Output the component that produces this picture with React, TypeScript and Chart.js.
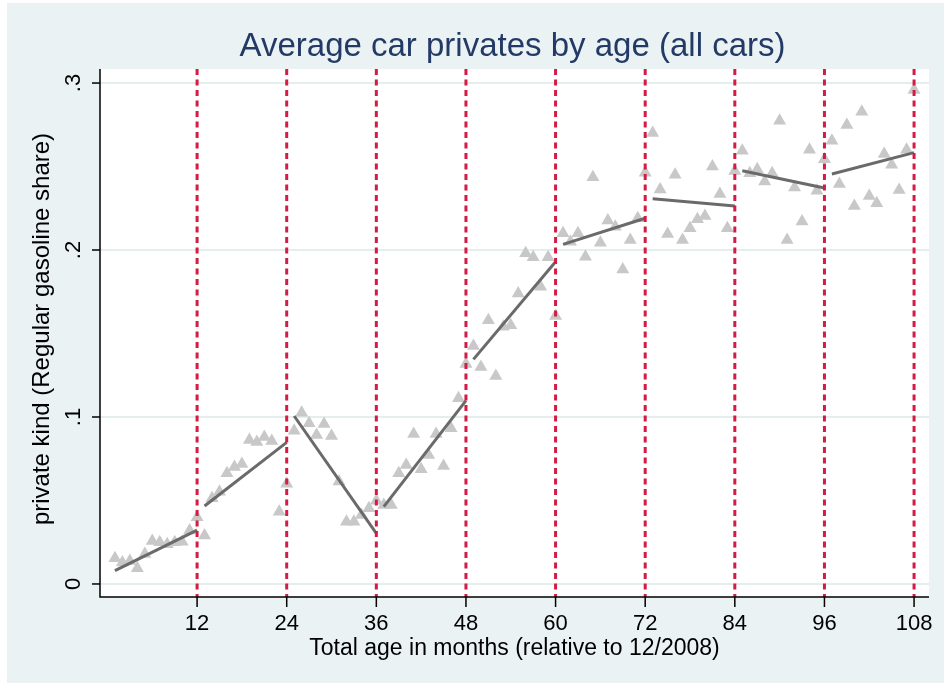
import { useEffect, useRef } from "react";
import { Chart, registerables } from "chart.js";

Chart.register(...registerables);

// Monthly average private share, months 1..108 (one row per 12-month block)
const shares = [
  0.0154, 0.0128, 0.0138, 0.0094, 0.018, 0.0257, 0.025, 0.0238, 0.025, 0.0253, 0.032, 0.04,
  0.029, 0.0513, 0.0553, 0.0663, 0.07, 0.0719, 0.0862, 0.085, 0.088, 0.0856, 0.0433, 0.06,
  0.0918, 0.1026, 0.0962, 0.0892, 0.0958, 0.0886, 0.0613, 0.0373, 0.0373, 0.0413, 0.0453, 0.0499,
  0.0473, 0.0473, 0.0663, 0.0713, 0.0898, 0.0687, 0.0772, 0.0898, 0.0707, 0.0932, 0.1112, 0.1317,
  0.1425, 0.13, 0.158, 0.1245, 0.154, 0.155, 0.174, 0.198, 0.1956, 0.178, 0.1956, 0.1605,
  0.21, 0.205, 0.21, 0.196, 0.2435, 0.2044, 0.2176, 0.214, 0.1884, 0.206, 0.219, 0.2463,
  0.27, 0.2363, 0.2096, 0.245, 0.206, 0.213, 0.2184, 0.2204, 0.25, 0.2335, 0.213, 0.2473,
  0.2595, 0.246, 0.2483, 0.241, 0.246, 0.2774, 0.206, 0.2375, 0.217, 0.26, 0.2355, 0.2543,
  0.2655, 0.2395, 0.2749, 0.2263, 0.2828, 0.2323, 0.228, 0.2575, 0.251, 0.236, 0.26, 0.2958,
];
const months = shares.map((_, i) => i + 1);

// Fitted line for each 12-month block
const segFirstMonth = [1, 13, 25, 37, 49, 61, 73, 85, 97];
const segLastMonth = [12, 24, 36, 48, 60, 72, 84, 96, 108];
const fitAtFirst = [0.008, 0.0467, 0.1006, 0.0463, 0.1345, 0.2034, 0.2307, 0.2475, 0.2455];
const fitAtLast = [0.0323, 0.0848, 0.0303, 0.1098, 0.193, 0.219, 0.2263, 0.2371, 0.2583];

// Dashed reference lines and axis ticks
const refMonths = [12, 24, 36, 48, 60, 72, 84, 96, 108];
const xTicks = [12, 24, 36, 48, 60, 72, 84, 96, 108];
const yTicks = [0, 0.1, 0.2, 0.3];
const yTickLabels = ["0", ".1", ".2", ".3"];

const X_MIN = -1;
const X_MAX = 110;
const Y_MIN = -0.0078;
const Y_MAX = 0.3084;

const TITLE = "Average car privates by age (all cars)";
const X_TITLE = "Total age in months (relative to 12/2008)";
const Y_TITLE = "private kind (Regular gasoline share)";

const FONT = '"Liberation Sans", Arial, Helvetica, sans-serif';
const MINT = "#eaf2f3";
const GRID = "#e4eeee";

const stataFrame = {
  id: "stataFrame",
  beforeDraw(chart: any) {
    const { ctx, chartArea: a, width, height } = chart;
    ctx.save();
    ctx.fillStyle = "#ffffff";
    ctx.fillRect(0, 0, width, height);
    ctx.fillStyle = MINT;
    ctx.fillRect(7, 3, 937, 680);
    ctx.fillStyle = "#ffffff";
    ctx.fillRect(a.left, a.top, a.right - a.left, a.bottom - a.top);
    const ys = chart.scales.y;
    ctx.strokeStyle = GRID;
    ctx.lineWidth = 2;
    for (const v of yTicks) {
      const py = Math.round(ys.getPixelForValue(v));
      ctx.beginPath();
      ctx.moveTo(a.left, py);
      ctx.lineTo(a.right, py);
      ctx.stroke();
    }
    ctx.restore();
  },
  afterDraw(chart: any) {
    const { ctx, chartArea: a } = chart;
    const xs = chart.scales.x;
    const ys = chart.scales.y;
    ctx.save();
    // axis lines
    ctx.strokeStyle = "#000000";
    ctx.lineWidth = 1.5;
    ctx.beginPath();
    ctx.moveTo(a.left, a.top);
    ctx.lineTo(a.left, a.bottom);
    ctx.lineTo(a.right, a.bottom);
    ctx.stroke();
    // tick marks
    for (const v of yTicks) {
      const py = ys.getPixelForValue(v);
      ctx.beginPath();
      ctx.moveTo(a.left - 8, py);
      ctx.lineTo(a.left, py);
      ctx.stroke();
    }
    for (const m of xTicks) {
      const px = xs.getPixelForValue(m);
      ctx.beginPath();
      ctx.moveTo(px, a.bottom);
      ctx.lineTo(px, a.bottom + 10);
      ctx.stroke();
    }
    // x tick labels
    ctx.fillStyle = "#000000";
    ctx.font = `22px ${FONT}`;
    ctx.textAlign = "center";
    ctx.textBaseline = "alphabetic";
    for (const m of xTicks) {
      ctx.fillText(String(m), xs.getPixelForValue(m), 630);
    }
    // y tick labels, rotated
    yTicks.forEach((v, i) => {
      const py = ys.getPixelForValue(v);
      ctx.save();
      ctx.translate(80, py);
      ctx.rotate(-Math.PI / 2);
      ctx.fillText(yTickLabels[i], 0, 0);
      ctx.restore();
    });
    // axis titles
    const cx = (a.left + a.right) / 2;
    const cy = (a.top + a.bottom) / 2;
    ctx.font = `23px ${FONT}`;
    ctx.fillText(X_TITLE, cx, 655);
    ctx.save();
    ctx.translate(49, cy - 4);
    ctx.rotate(-Math.PI / 2);
    ctx.font = `24px ${FONT}`;
    ctx.fillText(Y_TITLE, 0, 0);
    ctx.restore();
    // chart title
    ctx.fillStyle = "#243a66";
    ctx.font = `33px ${FONT}`;
    ctx.fillText(TITLE, cx - 2, 56);
    ctx.restore();
  },
};

export default function App() {
  const canvasRef = useRef<HTMLCanvasElement>(null);

  useEffect(() => {
    document.body.style.margin = "0";
    const canvas = canvasRef.current;
    if (!canvas) return;

    const pointData = months.map((m, i) => ({ x: m, y: shares[i] }));

    const fitSets = segFirstMonth.map((m0, i) => ({
      type: "line" as const,
      data: [
        { x: m0, y: fitAtFirst[i] },
        { x: segLastMonth[i], y: fitAtLast[i] },
      ],
      borderColor: "#6a6a6a",
      borderWidth: 3,
      pointRadius: 0,
      fill: false,
      order: 2,
    }));

    const refSets = refMonths.map((m) => ({
      type: "line" as const,
      data: [
        { x: m, y: Y_MAX },
        { x: m, y: Y_MIN },
      ],
      borderColor: "#d31b43",
      borderWidth: 3,
      borderDash: [6, 4.5],
      pointRadius: 0,
      fill: false,
      order: 1,
    }));

    const chart = new Chart(canvas, {
      type: "scatter",
      data: {
        datasets: [
          {
            type: "scatter" as const,
            data: pointData,
            pointStyle: "triangle",
            pointRadius: 7.5,
            backgroundColor: "#c8c8c8",
            borderColor: "#c8c8c8",
            borderWidth: 0,
            order: 3,
          },
          ...fitSets,
          ...refSets,
        ] as any,
      },
      options: {
        responsive: false,
        animation: false,
        devicePixelRatio: 1,
        layout: { padding: { left: 100, top: 69, right: 16, bottom: 88 } },
        plugins: {
          legend: { display: false },
          tooltip: { enabled: false },
        },
        scales: {
          x: { type: "linear", min: X_MIN, max: X_MAX, display: false },
          y: { type: "linear", min: Y_MIN, max: Y_MAX, display: false },
        },
      },
      plugins: [stataFrame],
    });

    return () => chart.destroy();
  }, []);

  return (
    <div style={{ position: "fixed", left: 0, top: 0, width: 945, height: 685 }}>
      <canvas
        ref={canvasRef}
        width={945}
        height={685}
        style={{ display: "block", width: 945, height: 685 }}
      />
    </div>
  );
}
